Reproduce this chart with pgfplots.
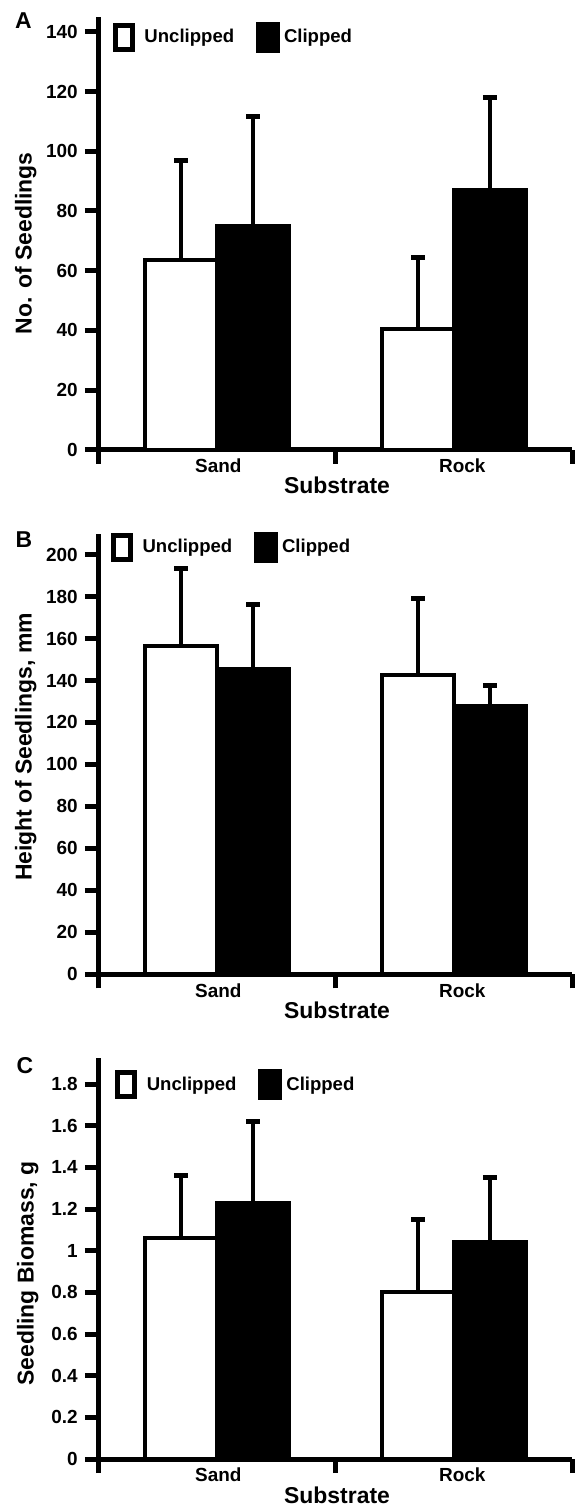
\documentclass[border=0pt]{standalone}
\usepackage{fontspec}
\setmainfont{Liberation Sans}
\usepackage{pgfplots}
\pgfplotsset{compat=1.18}

\pgfplotsset{
  seedaxis/.style={
    scale only axis,
    width=237.5pt,
    anchor=south west,
    clip=false,
    xmin=0, xmax=2, ymin=0,
    enlargelimits=false,
    axis x line=bottom, axis y line=left,
    axis line style={-, line width=2.5pt, black},
    tick align=outside,
    major tick length=7pt,
    tick style={line width=2.5pt, black},
    xtick={0,1,2}, xticklabels={},
    extra x ticks={0.505,1.535},
    extra x tick labels={Sand,Rock},
    extra x tick style={major tick length=0pt,
      xticklabel style={anchor=center, yshift=-8pt}},
    /pgf/number format/assume math mode=true,
    tick label style={font=\bfseries\fontsize{9.5}{11}\selectfont},
    xticklabel style={font=\bfseries\fontsize{9.5}{11}\selectfont},
    yticklabel style={font=\bfseries\fontsize{9.5}{11}\selectfont},
    label style={font=\bfseries\fontsize{11.5}{13}\selectfont},
    xlabel={Substrate},
    xlabel style={at={(axis description cs:0.503,0)}, anchor=center, yshift=-18pt},
    ylabel style={anchor=center},
    ybar=0pt,
    bar width=0.303,
    legend columns=2,
    legend style={anchor=north west, draw=none, fill=none, inner sep=0pt,
      font=\bfseries\fontsize{9.3}{11}\selectfont,
      /tikz/every even column/.append style={column sep=9pt}},
    error bars/y dir=plus,
    error bars/y explicit,
    error bars/error bar style={line width=2pt, black},
    error bars/error mark options={rotate=90, line width=2.5pt, mark size=3.5pt, black},
  },
  unclipbar/.style={fill=white, draw=black, line width=2pt,
    legend image code/.code={\draw[fill=white, draw=black, line width=2.5pt] (0pt,-6pt) rectangle (8.5pt,6pt);
      \path[draw=none, fill=none] (12.5pt,0pt) circle (0.1pt);}},
  clipbar/.style={fill=black, draw=black, line width=2pt,
    legend image code/.code={\draw[fill=black, draw=black, line width=2.5pt] (0pt,-6.5pt) rectangle (9.5pt,6.5pt);}},
}

\begin{document}
\begin{tikzpicture}
\path (-49.5pt,-529.5pt) rectangle (239pt,225.5pt);

% A: number of seedlings
\begin{axis}[seedaxis, at={(0pt,0pt)}, height=217pt, ymax=145,
  ytick={0,20,40,60,80,100,120,140},
  ylabel={No. of Seedlings},
  ylabel style={at={(axis description cs:-0.154,0.477)}},
  legend style={at={(rel axis cs:0.029,0.99)}}]
\addplot[unclipbar] coordinates {(0.5,63.5) +- (0,33.5) (1.5,40.5) +- (0,24)};
\addplot[clipbar] coordinates {(0.5,75) +- (0,36.5) (1.5,87) +- (0,31)};
\legend{Unclipped, Clipped}
\node[font=\bfseries\fontsize{11.5}{13}\selectfont, xshift=-37.75pt, yshift=-1.75pt] at (rel axis cs:0,1) {A};
\end{axis}

% B: height of seedlings
\begin{axis}[seedaxis, at={(0pt,-263pt)}, height=221pt, ymax=210,
  ytick={0,20,40,60,80,100,120,140,160,180,200},
  ylabel={Height of Seedlings, mm},
  ylabel style={at={(axis description cs:-0.154,0.516)}},
  legend style={at={(rel axis cs:0.025,1.005)}}]
\addplot[unclipbar] coordinates {(0.5,156.5) +- (0,37) (1.5,142.5) +- (0,36.5)};
\addplot[clipbar] coordinates {(0.5,145.5) +- (0,30.5) (1.5,128) +- (0,9.5)};
\legend{Unclipped, Clipped}
\node[font=\bfseries\fontsize{11.5}{13}\selectfont, xshift=-37.5pt, yshift=-3pt] at (rel axis cs:0,1) {B};
\end{axis}

% C: seedling biomass
\begin{axis}[seedaxis, at={(0pt,-506pt)}, height=201pt, ymax=1.925,
  ytick={0,0.2,0.4,0.6,0.8,1,1.2,1.4,1.6,1.8},
  ylabel={Seedling Biomass, g},
  ylabel style={at={(axis description cs:-0.15,0.463)}},
  legend style={at={(rel axis cs:0.034,0.973)}}]
\addplot[unclipbar] coordinates {(0.5,1.06) +- (0,0.30) (1.5,0.80) +- (0,0.35)};
\addplot[clipbar] coordinates {(0.5,1.23) +- (0,0.39) (1.5,1.04) +- (0,0.31)};
\legend{Unclipped, Clipped}
\node[font=\bfseries\fontsize{11.5}{13}\selectfont, xshift=-37pt, yshift=-3.5pt] at (rel axis cs:0,1) {C};
\end{axis}
\end{tikzpicture}
\end{document}
